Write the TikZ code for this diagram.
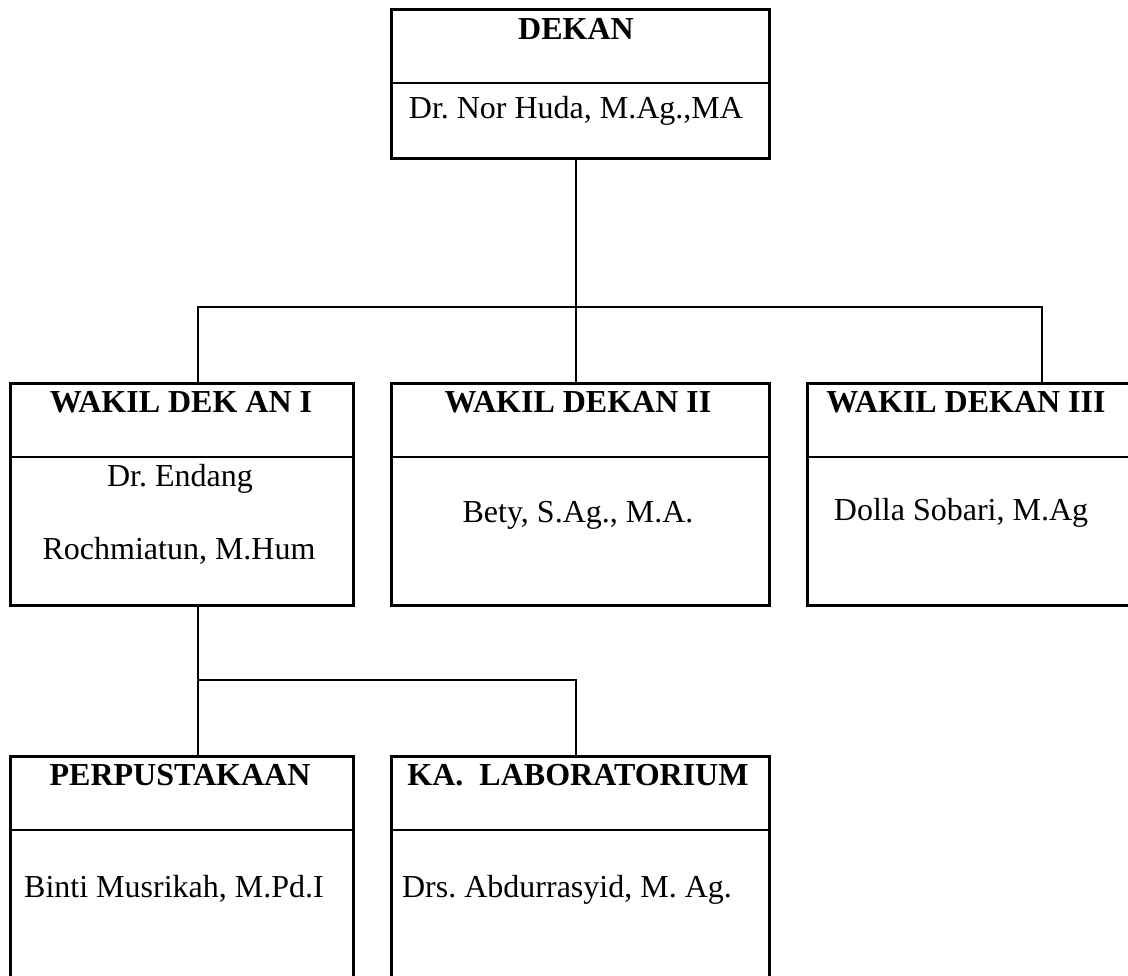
\documentclass[tikz,border=0pt]{standalone}
\usepackage{fontspec}
\setmainfont{Liberation Serif}
\usetikzlibrary{positioning,calc}
\frenchspacing

\tikzset{
    unitbox/.style={draw, line width=1.3pt, rectangle, anchor=north west, inner sep=0pt},
    link/.style={line width=1.3pt},
    title/.style={anchor=base, font=\fontsize{16}{19}\selectfont\bfseries},
    person/.style={anchor=base, font=\fontsize{16}{19}\selectfont},
}

\begin{document}
\begin{tikzpicture}[x=0.5pt, y=-0.5pt]
    \useasboundingbox (0,0) rectangle (1128,975);
    \fill[white] (0,0) rectangle (1128,975);
    \clip (0,0) rectangle (1128,975);

    % Boxes: name/left/top/width/height, with the line under the title
    \foreach \n/\x/\y/\w/\h in {dekan/390/8/378/149, wda/9/382/343/222, wdb/390/382/378/222, wdc/806/382/330/222, pus/9/755/343/240, lab/390/755/378/240} {
        \node[unitbox, minimum width=\w*0.5pt, minimum height=\h*0.5pt] (\n) at (\x,\y) {};
        \draw[link] ([yshift=-37.5pt]\n.north west) -- ([yshift=-37.5pt]\n.north east);
    }

    % Titles
    \node[title] (t-dekan) at (576,39) {DEKAN};
    \node[title] (t-wda) at (181,412) {WAKIL DEK AN I};
    \node[title] (t-wdb) at (578,412) {WAKIL DEKAN II};
    \node[title] (t-wdc) at (966,412) {WAKIL DEKAN III};
    \node[title] (t-pus) at (180,785) {PERPUSTAKAAN};
    \node[title] (t-lab) at (578,785) {KA.\ \ LABORATORIUM};

    % Names
    \node[person] (n-dekan) at (576,118) {Dr. Nor Huda, M.Ag.,MA};
    \node[person] (n-wda1) at (180,486) {Dr. Endang};
    \node[person] (n-wda2) at (179,559) {Rochmiatun, M.Hum};
    \node[person] (n-wdb) at (578,522) {Bety, S.Ag., M.A.};
    \node[person] (n-wdc) at (961,520) {Dolla Sobari, M.Ag};
    \node[person] (n-pus) at (174,897) {Binti Musrikah, M.Pd.I};
    \node[person] (n-lab) at (567,897) {Drs. Abdurrasyid, M. Ag.};

    % Dekan -> wakil dekan
    \coordinate (busa) at (198,307);
    \coordinate (busm) at (576,307);
    \coordinate (busb) at (1042,307);
    \draw[link] (busm |- dekan.south) -- (busm);
    \draw[link] (busa |- wda.north) -- (busa) -- (busb) -- (busb |- wdc.north);
    \draw[link] (busm) -- (busm |- wdb.north);

    % Wakil dekan I -> perpustakaan, laboratorium
    \coordinate (busc) at (198,680);
    \draw[link] (busc |- wda.south) -- (busc |- pus.north);
    \draw[link] (busc) -| (busm |- lab.north);
\end{tikzpicture}
\end{document}
